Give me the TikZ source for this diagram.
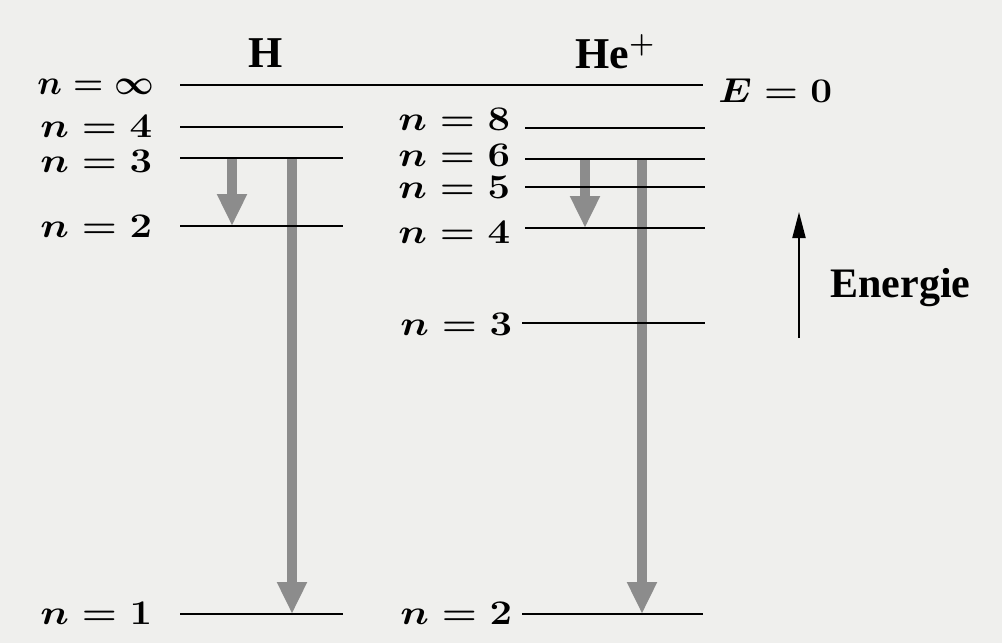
\documentclass[tikz,border=0pt]{standalone}
\usepackage{fontspec}
\setmainfont{Liberation Serif}
\usetikzlibrary{arrows.meta}
\definecolor{paper}{RGB}{239,239,237}
\definecolor{arrgray}{RGB}{140,140,140}
\newcommand{\wlab}[1]{\scalebox{1.16}[1]{$#1$}}
\begin{document}
\begin{tikzpicture}[x=0.5pt,y=-0.5pt,
  level/.style={line width=1.1pt,draw=black},
  nlab/.style={font=\fontsize{19}{21}\selectfont\boldmath, inner sep=0pt, anchor=base west},
  title/.style={font=\fontsize{22}{24}\selectfont\bfseries\boldmath, inner sep=0pt, anchor=base west},
  trans/.style={draw=arrgray, line width=5pt, -{Triangle[length=16pt,width=14pt]}},
  energyarrow/.style={draw=black, line width=1pt, -{Triangle[length=13pt,width=6.5pt]}}]
\fill[paper] (0,0) rectangle (1002,643);
\useasboundingbox (0,0) rectangle (1002,643);

% level end points
\coordinate (Hinfl) at (180,85);  \coordinate (Hinfr) at (703,85);
\coordinate (H4l) at (180,127);   \coordinate (H4r) at (343,127);
\coordinate (H3l) at (180,158);   \coordinate (H3r) at (343,158);
\coordinate (H2l) at (180,226);   \coordinate (H2r) at (343,226);
\coordinate (H1l) at (180,614);   \coordinate (H1r) at (343,614);
\coordinate (He8l) at (525,128);  \coordinate (He8r) at (705,128);
\coordinate (He6l) at (525,159);  \coordinate (He6r) at (705,159);
\coordinate (He5l) at (525,187);  \coordinate (He5r) at (705,187);
\coordinate (He4l) at (525,228);  \coordinate (He4r) at (705,228);
\coordinate (He3l) at (522,323);  \coordinate (He3r) at (705,323);
\coordinate (He2l) at (522,614);  \coordinate (He2r) at (703,614);

% transition end points
\coordinate (a1s) at (232,158); \coordinate (a1e) at (232,226);
\coordinate (a2s) at (292,158); \coordinate (a2e) at (292,614);
\coordinate (a3s) at (585,159); \coordinate (a3e) at (585,228);
\coordinate (a4s) at (642,159); \coordinate (a4e) at (642,614);
\coordinate (es) at (799,338);  \coordinate (ee) at (799,212);

% transitions (under the level lines)
\draw[trans] (a1s) -- (a1e);
\draw[trans] (a2s) -- (a2e);
\draw[trans] (a3s) -- (a3e);
\draw[trans] (a4s) -- (a4e);

% levels
\foreach \a in {Hinf,H4,H3,H2,H1,He8,He6,He5,He4,He3,He2}
  \draw[level] (\a l) -- (\a r);

% energy axis
\draw[energyarrow] (es) -- (ee);

% titles
\node[title] (tH) at (248,67) {H};
\node[title] (tHe) at (575,68) {He$^{+}$};
\node[title, font=\fontsize{21}{23}\selectfont\bfseries] (tE) at (830,297) {Energie};
\node[nlab] (E0) at (718,102) {\scalebox{1.12}[1]{$E=0$}};

% H labels
\node[nlab] (lHinf) at (37,94) {$n=\infty$};
\node[nlab] (lH4) at (40,137) {\wlab{n=4}};
\node[nlab] (lH3) at (40,172) {\wlab{n=3}};
\node[nlab] (lH2) at (40,237) {\wlab{n=2}};
\node[nlab] (lH1) at (40,624) {\wlab{n=1}};

% He+ labels
\node[nlab] (lHe8) at (398,130) {\wlab{n=8}};
\node[nlab] (lHe6) at (398,166) {\wlab{n=6}};
\node[nlab] (lHe5) at (398,198) {\wlab{n=5}};
\node[nlab] (lHe4) at (398,243) {\wlab{n=4}};
\node[nlab] (lHe3) at (400,335) {\wlab{n=3}};
\node[nlab] (lHe2) at (400,624) {\wlab{n=2}};
\end{tikzpicture}
\end{document}
